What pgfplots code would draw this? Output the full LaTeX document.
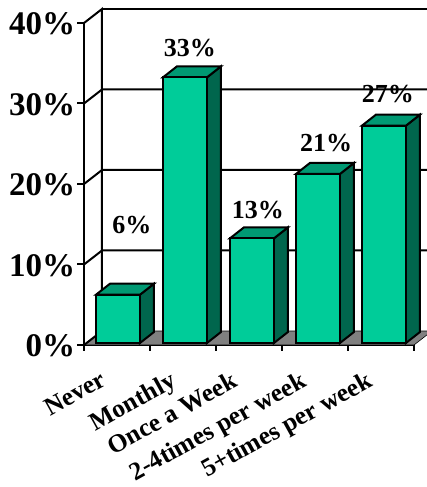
\documentclass[border=0pt]{standalone}
\usepackage{pgfplots}
\usepackage{pgfplotstable}
\usepackage{fontspec}
\setmainfont{Liberation Serif}
\pgfplotsset{compat=1.18}

\definecolor{barfront}{HTML}{00CC99}
\definecolor{bartop}{HTML}{009973}
\definecolor{barside}{HTML}{00664D}
\definecolor{floorgrey}{HTML}{808080}

% Corners of the box faces around a bar: offset from bar centre, offset from
% the level given by h (0 = base, 1 = bar value)
\pgfplotstableread{
dx dy h
-0.3333 0 1
0.3333 0 1
0.5454 1.366 1
-0.1212 1.366 1
}\topcorners
\pgfplotstableread{
dx dy h
0.3333 0 0
0.3333 0 1
0.5454 1.366 1
0.5454 1.366 0
}\sidecorners

\newcommand{\boxfaces}[2]{%
  \addplot[fill=barside,draw=black,line width=2pt,yshift=2pt]
    table[x expr=#1+\thisrow{dx},y expr=#2*\thisrow{h}+\thisrow{dy}] {\sidecorners} -- cycle;
  \addplot[fill=bartop,draw=black,line width=2pt,yshift=2pt]
    table[x expr=#1+\thisrow{dx},y expr=#2*\thisrow{h}+\thisrow{dy}] {\topcorners} -- cycle;
}

\begin{document}
\begin{tikzpicture}[x=1pt,y=1pt]
\useasboundingbox (0,0) rectangle (427,487);
\clip (0,0) rectangle (427,487);
\begin{axis}[
  at={(84pt,142pt)},anchor=south west,
  scale only axis,width=330pt,height=322pt,
  xmin=0,xmax=5,ymin=0,ymax=40,
  clip=false,
  axis x line=bottom,axis y line=left,
  axis line style={line width=2.4pt,-},
  tick align=outside,
  tick style={black,line width=2pt},
  ytick={0,10,20,30,40},
  yticklabels={0\%,10\%,20\%,30\%,40\%},
  yticklabel style={font=\fontsize{33}{33}\selectfont\bfseries,inner sep=0pt,xshift=-4.5pt,yshift=-1pt},
  major y tick style={/pgfplots/major tick length=7pt},
  xtick={0.5,1.5,2.5,3.5,4.5},
  major x tick style={draw=none},
  minor xtick={0,1,2,3,4,5},
  minor tick length=6pt,
  xticklabels={},
]
% floor of the box
\addplot[fill=floorgrey,draw=black,line width=0.6pt]
  coordinates {(0,0)(0.2727,1.739)(5.2727,1.739)(5,0)} -- cycle;
% back wall and side wall lines
\addplot[black,line width=2pt] coordinates {(0,0)(0.2727,1.739)(0.2727,41.739)(0,40)};
\addplot[black,line width=2pt] coordinates {(0.2727,41.739)(5.4,41.739)};
\addplot[black,line width=2pt] coordinates {(0,30)(0.2727,31.739)(5.4,31.739)};
\addplot[black,line width=2pt] coordinates {(0,20)(0.2727,21.739)(5.4,21.739)};
\addplot[black,line width=2pt] coordinates {(0,10)(0.2727,11.739)(5.4,11.739)};
% boxes
\boxfaces{0.515}{6}
\boxfaces{1.53}{33}
\boxfaces{2.545}{13}
\boxfaces{3.545}{21}
\boxfaces{4.545}{27}
\addplot[ybar,bar width=44pt,fill=barfront,draw=black,line width=2pt,yshift=2pt]
  coordinates {(0.515,6)(1.53,33)(2.545,13)(3.545,21)(4.545,27)};
% value labels
\begin{scope}[every node/.style={font=\fontsize{26}{26}\selectfont\bfseries,inner sep=0pt}]
\node at (axis cs:0.727,14.9) {6\%};
\node at (axis cs:1.606,36.9) {33\%};
\node at (axis cs:2.636,16.8) {13\%};
\node at (axis cs:3.667,25.1) {21\%};
\node at (axis cs:4.606,31.2) {27\%};
\end{scope}
% category labels
\begin{scope}[every node/.style={font=\fontsize{25.5}{25.5}\selectfont\bfseries,inner sep=0pt,rotate=29,anchor=north east}]
\node at (axis cs:0.227,-3.1) {Never};
\node at (axis cs:1.288,-3.1) {Monthly};
\node at (axis cs:2.212,-3.1) {Once a Week};
\node at (axis cs:3.258,-3.1) {2-4times per week};
\node at (axis cs:4.258,-3.1) {5+times per week};
\end{scope}
\end{axis}
\end{tikzpicture}
\end{document}
